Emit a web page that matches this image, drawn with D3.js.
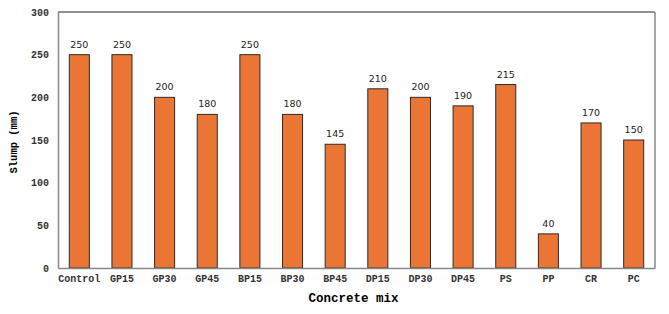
<!DOCTYPE html>
<html>
<head>
<meta charset="utf-8">
<script src="https://cdn.jsdelivr.net/npm/d3@7"></script>
<style>
  html, body { margin: 0; background: #fff; }
  svg { display: block; }
</style>
</head>
<body>
<svg id="chart" width="669" height="314"></svg>
<script>
// values
const mixes = ['Control', 'GP15', 'GP30', 'GP45', 'BP15', 'BP30', 'BP45', 'DP15', 'DP30', 'DP45', 'PS', 'PP', 'CR', 'PC']
const slump = [250, 250, 200, 180, 250, 180, 145, 210, 200, 190, 215, 40, 170, 150]
const yTicks = [0, 50, 100, 150, 200, 250, 300]

const svg = d3.select('#chart')
const plotL = 58, plotR = 655, plotT = 12, plotB = 268
const mono = '"Liberation Mono", "Courier New", monospace'

const x = d3.scaleBand().domain(mixes).range([plotL, plotR]).paddingInner(0.53).paddingOuter(0.265)
const y = d3.scaleLinear().domain([0, 300]).range([plotB, plotT])

// frame
svg.append('line').attr('x1', plotL).attr('x2', plotR).attr('y1', plotT).attr('y2', plotT)
  .attr('stroke', '#222').attr('stroke-width', 1)
svg.append('line').attr('x1', plotR).attr('x2', plotR).attr('y1', plotT).attr('y2', plotB)
  .attr('stroke', '#888').attr('stroke-width', 1.5)

// bars
svg.append('g').selectAll('rect')
  .data(slump)
  .join('rect')
  .attr('x', (d, i) => x(mixes[i]))
  .attr('y', d => y(d))
  .attr('width', x.bandwidth())
  .attr('height', d => plotB - y(d))
  .attr('fill', '#EB7535')
  .attr('stroke', '#2b2b2b')
  .attr('stroke-width', 1)

// value labels
svg.append('g').selectAll('text')
  .data(slump)
  .join('text')
  .attr('x', (d, i) => x(mixes[i]) + x.bandwidth() / 2)
  .attr('y', d => y(d) - 7)
  .attr('text-anchor', 'middle')
  .attr('font-family', '"DejaVu Sans", Verdana, sans-serif')
  .attr('font-size', 9.5)
  .attr('fill', '#222')
  .text(d => d)

// axes
const yAxis = svg.append('g').attr('transform', `translate(${plotL},0)`)
  .call(d3.axisLeft(y).tickValues(yTicks).tickSize(0).tickPadding(9))
yAxis.select('.domain').attr('stroke', '#888').attr('stroke-width', 1.5)
yAxis.selectAll('text').attr('font-family', mono).attr('font-size', 10).attr('font-weight', 'bold').attr('fill', '#333')

const xAxis = svg.append('g').attr('transform', `translate(0,${plotB})`)
  .call(d3.axisBottom(x).tickSize(0).tickPadding(7))
xAxis.select('.domain').attr('stroke', '#888').attr('stroke-width', 1.5)
xAxis.selectAll('text').attr('font-family', mono).attr('font-size', 10).attr('font-weight', 'bold').attr('fill', '#333')

// titles
svg.append('text')
  .attr('transform', `translate(17,${(plotT + plotB) / 2 + 2}) rotate(-90)`)
  .attr('text-anchor', 'middle')
  .attr('font-family', mono).attr('font-size', 10.5).attr('font-weight', 'bold')
  .text('Slump (mm)')

svg.append('text')
  .attr('x', (plotL + plotR) / 2 - 3).attr('y', 302)
  .attr('text-anchor', 'middle')
  .attr('font-family', mono).attr('font-size', 12.5).attr('font-weight', 'bold')
  .text('Concrete mix')
</script>
</body>
</html>
